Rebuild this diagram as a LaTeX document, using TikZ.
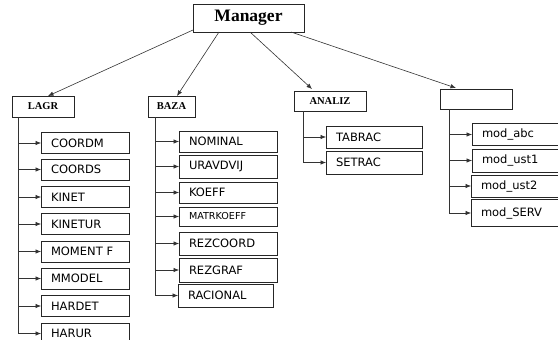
\documentclass[tikz,border=0pt]{standalone}
\usepackage{fontspec}
\setmainfont{Liberation Serif}
\newfontfamily\boxfont{DejaVu Sans}
\usetikzlibrary{arrows.meta}
\begin{document}
\begin{tikzpicture}[x=1pt,y=-1pt,
  line width=0.7pt,
  frame/.style={draw=black!85, inner sep=0pt, outer sep=0pt},
  head/.style={frame, font=\fontsize{10.5}{12}\selectfont\bfseries},
  item/.style={frame, align=left, inner xsep=10pt, inner ysep=0pt,
    font=\boxfont\fontsize{11.5}{13}\selectfont, anchor=west},
  arr/.style={draw=black!80, line width=0.6pt, -{Latex[length=5.5pt,width=4.5pt]}}
]
\useasboundingbox (0,0) rectangle (558,340);
\clip (0,0) rectangle (558,340);
% parents
\node[frame, minimum width=111pt, minimum height=28pt,
  font=\fontsize{17.5}{20}\selectfont\bfseries] (M) at (248.5,18) {Manager};
\node[head, minimum width=62pt, minimum height=21pt] (L) at (43,106.5) {LAGR};
\node[head, minimum width=47pt, minimum height=21pt] (B) at (171.5,106.5) {BAZA};
\node[head, minimum width=72pt, minimum height=20pt] (A) at (330,101) {ANALIZ};
\node[frame, minimum width=72pt, minimum height=20pt] (E) at (476,99) {};
% manager arrows
\draw[arr] ([yshift=2pt]M.south west) -- ([xshift=5pt]L.north);
\draw[arr] ([xshift=-29.5pt]M.south) -- ([xshift=5.5pt]B.north);
\draw[arr] ([xshift=1.5pt]M.south) -- ([xshift=-18pt,yshift=2pt]A.north);
\draw[arr] ([xshift=42.5pt]M.south) -- ([xshift=-20pt,yshift=1pt]E.north);
% LAGR children
\begin{scope}[every node/.style={item, text width=68pt, minimum height=21pt}]
\node (l1) at (41,143) {COORDM};
\node (l2) at (41,169.5) {COORDS};
\node (l3) at (41,197) {KINET};
\node (l4) at (41,224) {KINETUR};
\node (l5) at (41,251.5) {MOMENT F};
\node (l6) at (41,278.5) {MMODEL};
\node (l7) at (41,306) {HARDET};
\node (l8) at (41,333.5) {HARUR};
\end{scope}
\coordinate (lt) at (18,117);
\foreach \c in {l1,l2,l3,l4,l5,l6,l7,l8}{\draw[arr] (lt) |- (\c.west);}
% BAZA children
\begin{scope}[every node/.style={item, text width=78pt}]
\node[minimum height=21pt] (b1) at (179,141.5) {NOMINAL};
\node[minimum height=23pt] (b2) at (179,166.5) {URAVDVIJ};
\node[minimum height=21pt] (b3) at (179,192.5) {KOEFF};
\node[minimum height=19pt, font=\boxfont\fontsize{9.6}{11}\selectfont] (b4) at (179,216.5) {MATRKOEFF};
\node[minimum height=23pt] (b5) at (179,243.5) {REZCOORD};
\node[minimum height=24pt] (b6) at (179,270) {REZGRAF};
\node[minimum height=23pt, text width=75pt] (b7) at (178,295.5) {RACIONAL};
\end{scope}
\coordinate (bt) at (155,117);
\foreach \c in {b1,b2,b3,b4,b5,b6,b7}{\draw[arr] (bt) |- (\c.west);}
% ANALIZ children
\begin{scope}[every node/.style={item, text width=76pt}]
\node[minimum height=22pt] (a1) at (326,137) {TABRAC};
\node[minimum height=23pt] (a2) at (326,162.5) {SETRAC};
\end{scope}
\coordinate (at) at (303,111);
\foreach \c in {a1,a2}{\draw[arr] (at) |- (\c.west);}
% fourth group children
\begin{scope}[every node/.style={item, text width=90pt}]
\node[minimum height=22pt] (e1) at (472,134.5) {mod\_abc};
\node[minimum height=23pt] (e2) at (472,160.5) {mod\_ust1};
\node[minimum height=22pt] (e3) at (471,186) {mod\_ust2};
\node[minimum height=27pt] (e4) at (471,213) {mod\_SERV};
\end{scope}
\coordinate (et) at (449,109);
\foreach \c in {e1,e2,e3,e4}{\draw[arr] (et) |- (\c.west);}
\end{tikzpicture}
\end{document}
